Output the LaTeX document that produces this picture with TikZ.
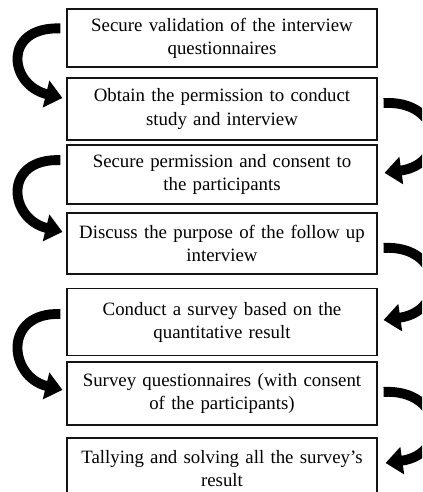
\documentclass[tikz,border=0pt]{standalone}
\usepackage{fontspec}
\setmainfont{Liberation Serif}
\usepackage{xcolor}
\usetikzlibrary{arrows.meta}
\definecolor{figline}{RGB}{20,20,20}
\definecolor{figarrow}{RGB}{0,0,0}
\tikzset{
  stp/.style ={draw=figline, line width=0.8pt, minimum width=7.75cm, text width=7.6cm,
               align=center, inner sep=2pt, font=\fontsize{13.4}{16.4}\selectfont},
  crv/.style ={draw=figarrow, line width=7pt, -{Triangle[length=12pt,width=19pt]}},
}
\begin{document}
\begin{tikzpicture}
  \useasboundingbox (0,0) rectangle (10.55,-12.3);
  \clip (0,0) rectangle (10.55,-12.3);
  % steps
  \node[stp, minimum height=1.45cm]  (b1) at (5.55,-0.95)    {Secure validation of the interview\\questionnaires};
  \node[stp, minimum height=1.55cm]  (b2) at (5.55,-2.725)   {Obtain the permission to conduct\\study and interview};
  \node[stp, minimum height=1.475cm] (b3) at (5.55,-4.3625)  {Secure permission and consent to\\the participants};
  \node[stp, minimum height=1.525cm] (b4) at (5.55,-6.0875)  {Discuss the purpose of the follow up\\interview};
  \node[stp, minimum height=1.675cm] (b5) at (5.55,-8.05)    {Conduct a survey based on the\\quantitative result};
  \node[stp, minimum height=1.575cm] (b6) at (5.55,-9.8375)  {Survey questionnaires (with consent\\of the participants)};
  \node[stp, minimum height=1.55cm]  (b7) at (5.55,-11.725)  {Tallying and solving all the survey’s\\result};
  % left arrows
  \draw[crv] ([shift={(-0.15,0.24)}]b1.west) .. controls +(-1.45,0.05) and +(-1.35,0.33) .. ([shift={(-0.1,0.275)}]b2.west);
  \draw[crv] ([shift={(-0.15,0.36)}]b3.west) .. controls +(-1.45,0.05) and +(-1.35,0.33) .. ([shift={(-0.1,0.29)}]b4.west);
  \draw[crv] ([shift={(-0.15,0.2)}]b5.west) .. controls +(-1.45,0.05) and +(-1.35,0.33) .. ([shift={(-0.1,0.09)}]b6.west);
  % right arrows
  \draw[crv] ([shift={(0.15,0.15)}]b2.east) .. controls +(1.5,0.075) and +(1.6,0.225) .. ([shift={(0.175,0.04)}]b3.east);
  \draw[crv] ([shift={(0.15,-0.11)}]b4.east) .. controls +(1.5,0.075) and +(1.6,0.225) .. ([shift={(0.15,0.05)}]b5.east);
  \draw[crv] ([shift={(0.15,0.04)}]b6.east) .. controls +(1.5,0.075) and +(1.6,0.225) .. ([shift={(0.2,0.15)}]b7.east);
\end{tikzpicture}
\end{document}
